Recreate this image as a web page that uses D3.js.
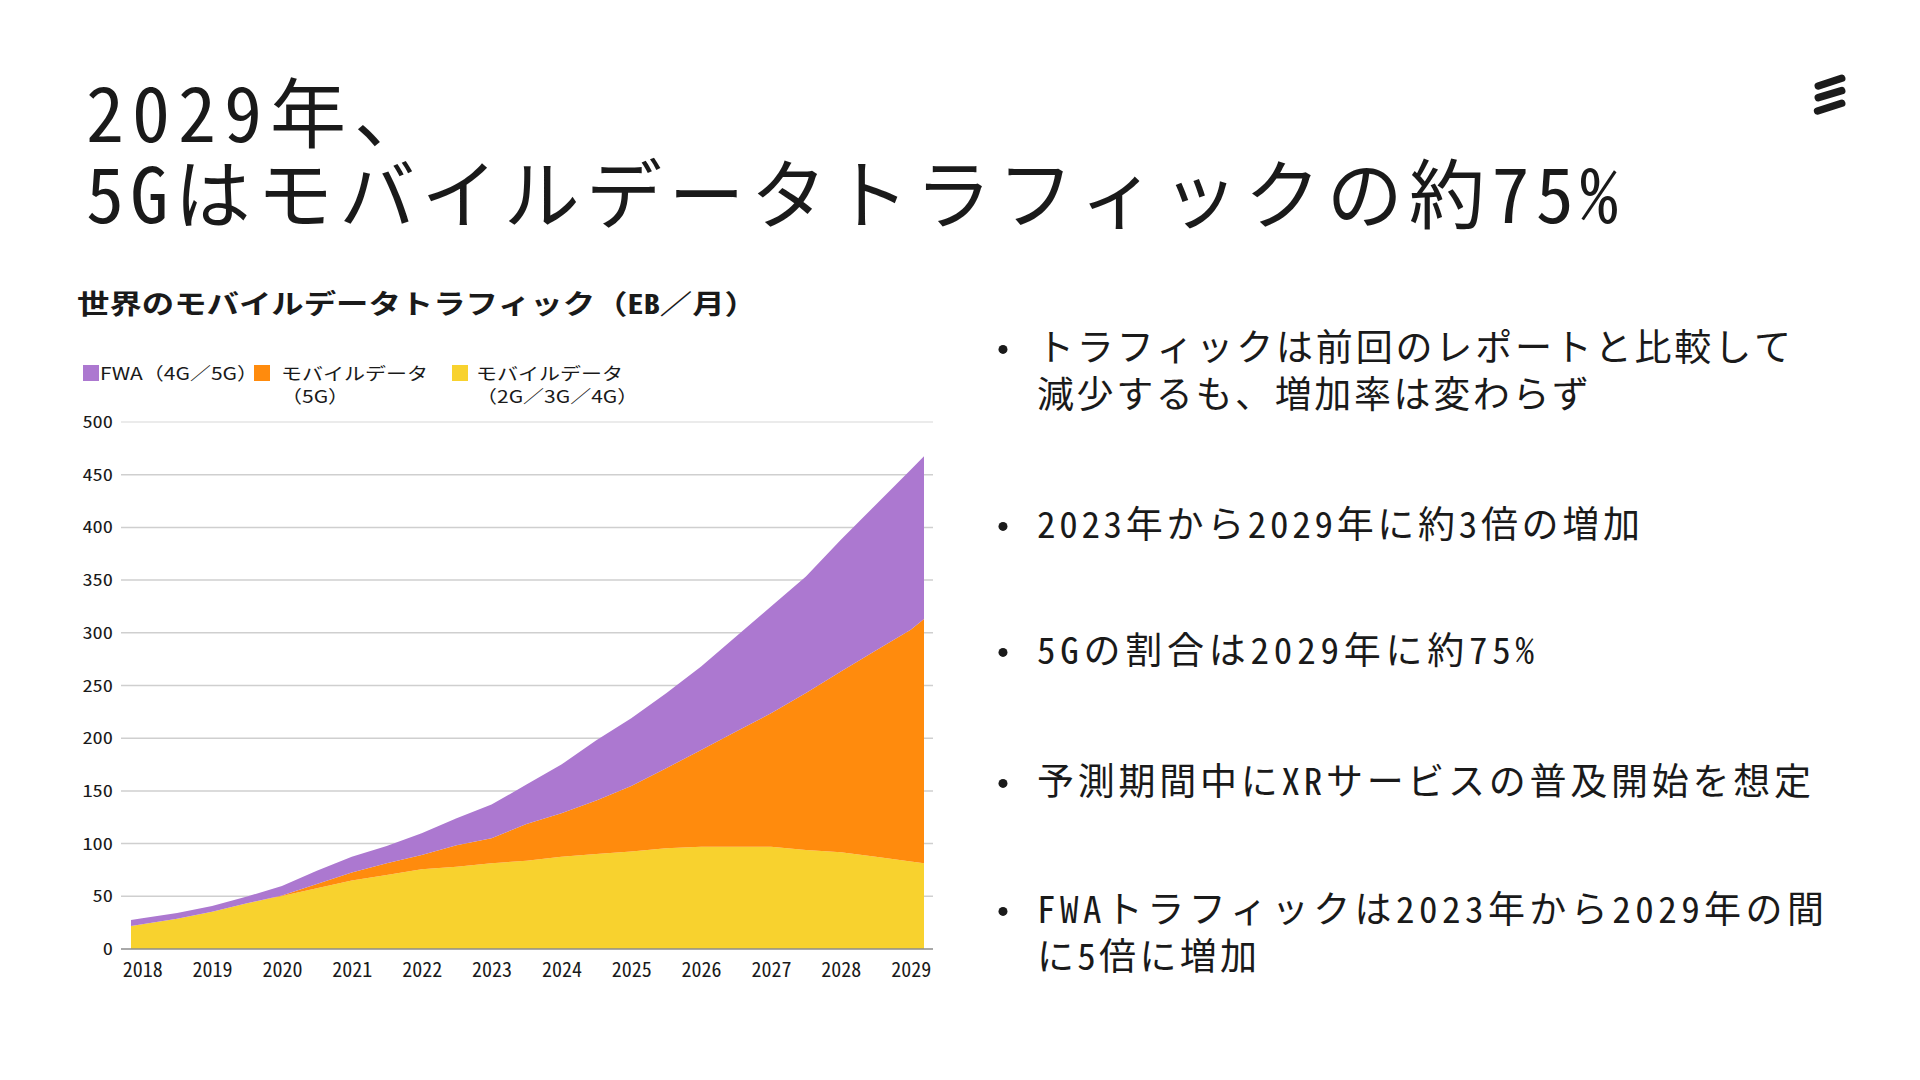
<!DOCTYPE html>
<html><head><meta charset="utf-8">
<script src="https://cdn.jsdelivr.net/npm/d3@7"></script>
<style>
html,body{margin:0;padding:0;background:#fff;}
svg{display:block;}
text{font-family:"Noto Sans Mono CJK JP","DejaVu Sans Mono","Noto Sans CJK JP",sans-serif;fill:#1a1a1a;}
text.prop{font-family:"Noto Sans CJK JP","Noto Sans",sans-serif;}
</style></head><body>
<svg id="c" width="1920" height="1080"></svg>
<script>
// ---- data ----
const titleLines = ["2029年、", "5Gはモバイルデータトラフィックの約75%"];
const chartTitle = "世界のモバイルデータトラフィック（EB／月）";
const seriesKeys = ["other", "fiveG", "fwa"];
const legendLabels = [["FWA（4G／5G）"], ["モバイルデータ", "（5G）"], ["モバイルデータ", "（2G／3G／4G）"]];
const seriesColors = ["#f8d22e", "#ff8b0d", "#ac78d0"];
const periods = [2017.84, 2018, 2018.5, 2019, 2019.5, 2020, 2020.5, 2021, 2021.5, 2022, 2022.5, 2023, 2023.5, 2024, 2024.5, 2025, 2025.5, 2026, 2026.5, 2027, 2027.5, 2028, 2028.5, 2029, 2029.19];
const other = [21.8, 23.4, 28.8, 35.4, 43.4, 50.3, 57.6, 64.9, 70.2, 75.6, 78.1, 81.3, 83.8, 87.6, 90.2, 92.4, 95.6, 97.1, 97.1, 97.1, 94, 91.8, 87.6, 82.9, 81.3];
const fiveG = [0, 0, 0, 0, 0, 0.5, 4.1, 7.6, 11.1, 13.6, 20.3, 23.7, 34.9, 41.2, 50.6, 62.3, 75.9, 91.8, 109.2, 126.6, 149, 171.5, 195.6, 219.9, 231.7];
const fwa = [5.7, 5.7, 5.4, 5.4, 6.3, 9.0, 12.6, 15.1, 16.5, 20.6, 25.6, 32, 37.3, 46.2, 57.2, 64.3, 71.2, 79.1, 90.2, 101.3, 110.4, 125, 138.3, 151.9, 154.4];
const yearTicks = [2018, 2019, 2020, 2021, 2022, 2023, 2024, 2025, 2026, 2027, 2028, 2029];
const yTicks = [0, 50, 100, 150, 200, 250, 300, 350, 400, 450, 500];
const bullets = [
  ["トラフィックは前回のレポートと比較して", "減少するも、増加率は変わらず"],
  ["2023年から2029年に約3倍の増加"],
  ["5Gの割合は2029年に約75%"],
  ["予測期間中にXRサービスの普及開始を想定"],
  ["FWAトラフィックは2023年から2029年の間", "に5倍に増加"]
];

// ---- drawing ----
const svg = d3.select("#c");
svg.append("rect").attr("width", 1920).attr("height", 1080).attr("fill", "#fff");

// Title
svg.append("text").attr("x", 86).attr("y", 142).style("font-size", "76px")
  .attr("letter-spacing", 8).text(titleLines[0]);
svg.append("text").attr("x", 86).attr("y", 223).style("font-size", "76px")
  .attr("textLength", 1532).attr("lengthAdjust", "spacing").text(titleLines[1]);

// Logo
const logo = svg.append("g").attr("stroke", "#1b1b1b").attr("stroke-width", 7.5).attr("stroke-linecap", "round");
[[1818.3, 86, 1841.7, 78.3], [1818.3, 97.6, 1841.7, 90.7], [1817.6, 111, 1841.7, 103.3]].forEach(b => {
  logo.append("line").attr("x1", b[0]).attr("y1", b[1]).attr("x2", b[2]).attr("y2", b[3]);
});

// Chart title
svg.append("text").attr("x", 77).attr("y", 314).style("font-size", "27px").style("font-weight", "bold")
  .attr("textLength", 680).attr("lengthAdjust", "spacingAndGlyphs").text(chartTitle);

// Legend
const SX = 1.2;
const legendPos = [{sq: 83, tx: 100}, {sq: 254, tx: 281}, {sq: 452, tx: 476}];
const legendOrder = [2, 1, 0];
legendOrder.forEach((si, li) => {
  const p = legendPos[li];
  svg.append("rect").attr("x", p.sq).attr("y", 365).attr("width", 16).attr("height", 16).attr("fill", seriesColors[si]);
  legendLabels[li].forEach((ln, k) => {
    svg.append("text").attr("class", "prop").attr("transform", `translate(${p.tx},${380 + k * 22.5}) scale(${SX},1)`)
      .style("font-size", "17.5px").text(ln);
  });
});

// Scales
const x = d3.scaleLinear().domain([periods[0], periods[periods.length - 1]]).range([131, 924]);
const y = d3.scaleLinear().domain([0, 500]).range([949, 422]);

// Grid
svg.append("g").selectAll("line").data(yTicks.filter(t => t > 0)).join("line")
  .attr("x1", 121).attr("x2", 933).attr("y1", d => y(d)).attr("y2", d => y(d))
  .attr("stroke", d => d === 500 ? "#e4e4e4" : "#cfcfcf").attr("stroke-width", 1.5);

// Stack
const rows = periods.map((p, i) => ({p, other: other[i], fiveG: fiveG[i], fwa: fwa[i]}));
const stacked = d3.stack().keys(seriesKeys)(rows);
const area = d3.area().x(d => x(d.data.p)).y0(d => y(d[0])).y1(d => y(d[1]));
svg.append("g").selectAll("path").data(stacked).join("path")
  .attr("d", area).attr("fill", (d, i) => seriesColors[i]);

// Baseline
svg.append("line").attr("x1", 121).attr("x2", 933).attr("y1", y(0)).attr("y2", y(0))
  .attr("stroke", "#8c8c8c").attr("stroke-width", 1.5);

// Y labels
svg.append("g").selectAll("text").data(yTicks).join("text")
  .attr("transform", d => `translate(113,${y(d) + 6}) scale(${SX},1)`)
  .attr("text-anchor", "end").style("font-size", "17px").text(d => d);

// X axis
const xa = svg.append("g").attr("transform", `translate(0,${y(0)})`)
  .call(d3.axisBottom(x).tickValues(yearTicks).tickFormat(d3.format("d")).tickSize(0).tickPadding(14));
xa.select(".domain").remove();
xa.selectAll("text").style("font-size", "20px");

// Bullets
const bulletY = [[361, 408], [538], [664], [795], [923, 970]];
const bulletLen = [[754, 552], [603], [497], [774], [787, 220]];
bullets.forEach((lines, i) => {
  svg.append("circle").attr("cx", 1003).attr("cy", bulletY[i][0] - 11.6).attr("r", 4.5).attr("fill", "#1a1a1a");
  lines.forEach((ln, k) => {
    svg.append("text").attr("x", 1037).attr("y", bulletY[i][k]).style("font-size", "37px")
      .attr("textLength", bulletLen[i][k]).attr("lengthAdjust", "spacing").text(ln);
  });
});
</script></body></html>
